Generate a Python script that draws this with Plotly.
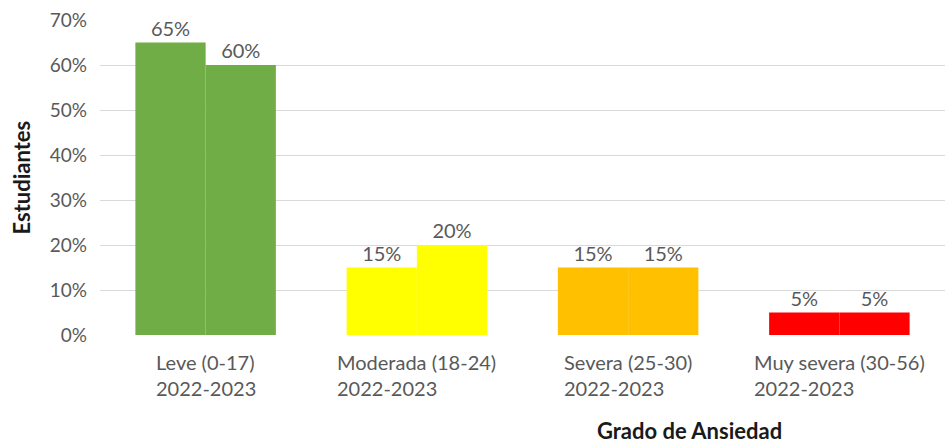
import plotly.graph_objects as go

categories = ["Leve (0-17)", "Moderada (18-24)", "Severa (25-30)", "Muy severa (30-56)"]
period = "2022-2023"
series_a = [0.65, 0.15, 0.15, 0.05]
series_b = [0.60, 0.20, 0.15, 0.05]
bar_colors = ["#70AD47", "#FFFF00", "#FFC000", "#FF0000"]
y_title = "Estudiantes"
x_title = "Grado de Ansiedad"

FONT = "Lato, 'Open Sans', sans-serif"
GRAY = "#595959"

fig = go.Figure()
for name, vals in (("A", series_a), ("B", series_b)):
    fig.add_trace(go.Bar(
        x=categories, y=vals, name=name,
        marker=dict(color=bar_colors, line=dict(width=0)),
        texttemplate="%{y:.0%}", textposition="outside",
        textfont=dict(family=FONT, size=20, color=GRAY),
        cliponaxis=False, showlegend=False,
    ))

annotations = []
for c in categories:
    annotations.append(dict(
        x=c, xref="x", y=0, yref="paper", yanchor="top", yshift=-13,
        xanchor="center", align="left", showarrow=False,
        text=f"{c}<br>{period}",
        font=dict(family=FONT, size=20, color=GRAY),
    ))
annotations.append(dict(
    x=0, xref="paper", xanchor="center", xshift=-79, y=0.5, yref="paper",
    yanchor="middle", textangle=-90, showarrow=False, text=f"<b>{y_title}</b>",
    font=dict(family=FONT, size=22, color="#1a1a1a"),
))
annotations.append(dict(
    x=0.698, xref="paper", xanchor="center", y=0, yref="paper", yshift=-95,
    yanchor="middle", showarrow=False, text=f"<b>{x_title}</b>",
    font=dict(family=FONT, size=22, color="#1a1a1a"),
))

fig.update_layout(
    width=951, height=443,
    margin=dict(l=100, r=6, t=20, b=108, autoexpand=False),
    paper_bgcolor="white", plot_bgcolor="white",
    barmode="group", bargap=0.335, bargroupgap=0,
    xaxis=dict(showticklabels=False, showgrid=False, showline=False,
               zeroline=False, automargin=False),
    yaxis=dict(range=[0, 0.7], dtick=0.1, tickformat=".0%",
               showgrid=True, gridcolor="#D9D9D9", gridwidth=1,
               zeroline=False, showline=False, automargin=False,
               tickfont=dict(family=FONT, size=19, color=GRAY),
               ticklabelstandoff=12),
    annotations=annotations,
)

fig.write_html("out.html", config={"displayModeBar": False},
               post_script="document.body.style.margin='0';document.body.style.overflow='hidden';")
